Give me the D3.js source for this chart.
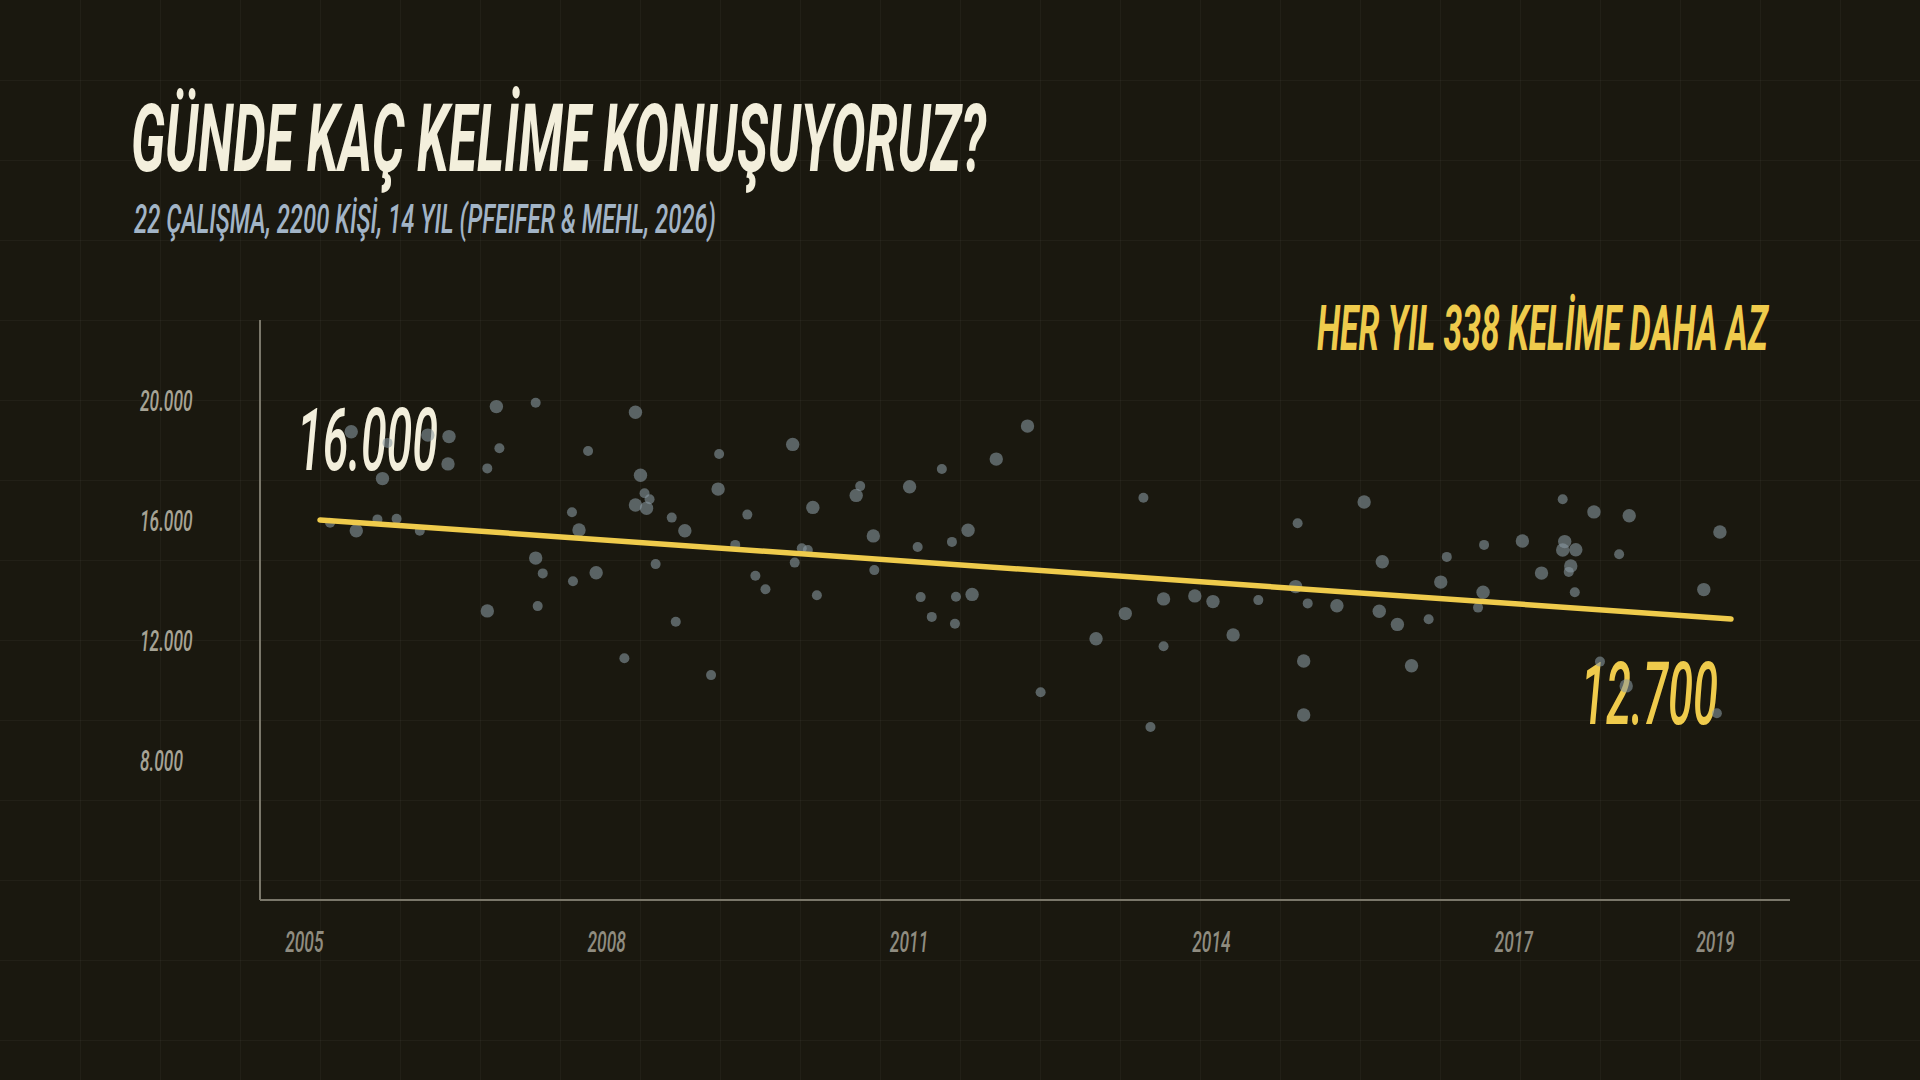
<!DOCTYPE html>
<html lang="tr">
<head>
<meta charset="utf-8">
<title>Günde kaç kelime konuşuyoruz?</title>
<script src="https://cdn.jsdelivr.net/npm/d3@7"></script>
<style>
  html, body { margin: 0; padding: 0; background: #1a180f; }
  svg { display: block; }
  text { font-family: Roboto, "Noto Sans", sans-serif; font-style: italic; }
</style>
</head>
<body>
<div id="chart"></div>
<script>
// Each point is one study sample: year, average words per day, weight (1 = small, 2 = large sample)
const years = [
  2006.75, 2007.14, 2008.13, 2005.31, 2006.07, 2006.28, 2005.67, 2006.27, 2006.78, 2006.66,
  2007.66, 2005.62, 2008.18, 2008.22, 2008.13, 2008.27, 2008.24, 2005.10, 2005.36, 2005.57,
  2005.76, 2005.99, 2007.50, 2007.57, 2007.14, 2007.21, 2007.74, 2007.51, 2008.33, 2006.66,
  2007.16, 2008.02,
  2008.49, 2008.62, 2008.96, 2008.95, 2009.69, 2009.24, 2009.89, 2010.36, 2010.32, 2010.85,
  2011.17, 2011.71, 2012.02, 2010.49, 2010.93, 2011.27, 2011.43, 2009.12, 2009.78, 2009.84,
  2009.71, 2009.32, 2009.42, 2009.93, 2010.50, 2010.96, 2011.31, 2011.47, 2011.07, 2011.30,
  2008.53, 2008.88,
  2013.17, 2014.70, 2015.36, 2015.54, 2014.68, 2013.37, 2013.68, 2013.86, 2014.31, 2014.80,
  2015.09, 2015.51, 2012.99, 2012.70, 2013.37, 2014.06, 2014.76, 2014.76, 2012.15, 2013.24,
  2015.69, 2016.00, 2015.83, 2016.12, 2016.18, 2016.55, 2016.93, 2016.54, 2016.49, 2017.12,
  2017.33, 2017.64, 2017.99, 2018.89, 2017.35, 2017.33, 2017.46, 2017.89, 2017.41, 2017.39,
  2017.45, 2018.73, 2017.70, 2017.96, 2018.86
];
const words = [
  19780, 19910, 19590, 18940, 18830, 18780, 18570, 17870, 18390, 17720,
  18300, 17380, 17490, 16890, 16500, 16690, 16390, 15910, 15640, 16020,
  16040, 15640, 16260, 15670, 14730, 14220, 14240, 13960, 14530, 12970,
  13130, 11390,
  16080, 15640, 18200, 17030, 18520, 16180, 16420, 17130, 16820, 17110,
  17700, 18030, 19130, 15470, 15100, 15270, 15660, 15170, 15060, 15000,
  14580, 14140, 13690, 13490, 14330, 13430, 13440, 13520, 12770, 12540,
  12610, 10830,
  16740, 15890, 16600, 14610, 13780, 13370, 13470, 13280, 13330, 13220,
  13140, 12960, 12880, 12040, 11790, 12170, 11300, 9500, 10260, 9100,
  12520, 12690, 11140, 13930, 14770, 15170, 15300, 13590, 13080, 14230,
  16690, 16270, 16140, 15600, 15280, 15000, 15010, 14860, 14470, 14270,
  13590, 13680, 11280, 10470, 9560
];
const weights = [
  2, 1, 2, 2, 2, 2, 1, 2, 1, 1,
  1, 2, 2, 1, 2, 1, 2, 1, 2, 1,
  1, 1, 1, 2, 2, 1, 2, 1, 1, 2,
  1, 1,
  1, 2, 1, 2, 2, 1, 2, 1, 2, 2,
  1, 2, 2, 2, 1, 1, 2, 1, 1, 1,
  1, 1, 1, 1, 1, 1, 1, 2, 1, 1,
  1, 1,
  1, 1, 2, 2, 2, 2, 2, 2, 1, 1,
  2, 2, 2, 2, 1, 2, 2, 2, 1, 1,
  2, 1, 2, 2, 1, 1, 2, 2, 1, 2,
  1, 2, 2, 2, 2, 2, 2, 1, 2, 1,
  1, 2, 1, 2, 1
];

// Trend line (start / end)
const trendYears = [2005, 2019];
const trendWords = [16000, 12700];

const xTicks = [2005, 2008, 2011, 2014, 2017, 2019];
const yTicks = [8000, 12000, 16000, 20000];

const titleText = "GÜNDE KAÇ KELİME KONUŞUYORUZ?";
const subtitleText = "22 ÇALIŞMA, 2200 KİŞİ, 14 YIL (PFEIFER & MEHL, 2026)";
const noteText = "HER YIL 338 KELİME DAHA AZ";

const width = 1920;
const height = 1080;

const cream = "#f3efdc";
const yellow = "#efcb4c";

const trFormat = d3.formatLocale({ decimal: ",", thousands: ".", grouping: [3], currency: ["", ""] }).format(",");

const svg = d3.select("#chart")
  .append("svg")
  .attr("width", width)
  .attr("height", height)
  .attr("viewBox", `0 0 ${width} ${height}`);

svg.append("rect")
  .attr("width", width)
  .attr("height", height)
  .attr("fill", "#1a180f");

// faint background grid every 80px
const grid = svg.append("g").attr("stroke", "rgba(255,255,255,0.035)").attr("stroke-width", 1);
grid.selectAll("line.v")
  .data(d3.range(80, width, 80))
  .enter().append("line")
  .attr("x1", d => d + 0.5).attr("x2", d => d + 0.5)
  .attr("y1", 0).attr("y2", height);
grid.selectAll("line.h")
  .data(d3.range(80, height, 80))
  .enter().append("line")
  .attr("y1", d => d + 0.5).attr("y2", d => d + 0.5)
  .attr("x1", 0).attr("x2", width);

const x = d3.scaleLinear().domain([2005, 2019]).range([320, 1731]);
const y = d3.scaleLinear().domain([8000, 20000]).range([760, 400]);
const r = d3.scaleLinear().domain([1, 2]).range([5, 6.7]);

// draw text squeezed horizontally (condensed look), left edge at x, baseline at y
function condensed(parent, str, px, py, size, weight, fill, targetWidth) {
  const t = parent.append("text")
    .attr("font-size", size)
    .attr("font-weight", weight)
    .attr("fill", fill)
    .text(str);
  const w = t.node().getComputedTextLength();
  t.attr("transform", `translate(${px},${py}) scale(${targetWidth / w},1)`);
  return t;
}

// squeeze axis tick labels around their anchor
function squeezeTicks(sel, ratio, xPos) {
  sel.attr("x", xPos / ratio)
    .attr("transform", `scale(${ratio},1)`);
}

// Title + subtitle
condensed(svg, titleText, 131, 171, 94, 700, cream, 855);
condensed(svg, subtitleText, 134, 233, 40, 500, "#a2b4c6", 582);

// Frame lines
svg.append("line")
  .attr("x1", 260).attr("x2", 260)
  .attr("y1", 320).attr("y2", 900)
  .attr("stroke", "#7a776a").attr("stroke-width", 2);
svg.append("line")
  .attr("x1", 260).attr("x2", 1790)
  .attr("y1", 900).attr("y2", 900)
  .attr("stroke", "#7a776a").attr("stroke-width", 2);

// Y axis
const yAxis = svg.append("g")
  .attr("transform", "translate(260,0)")
  .call(d3.axisLeft(y).tickValues(yTicks).tickSize(0).tickFormat(trFormat));
yAxis.select(".domain").remove();
yAxis.selectAll("text")
  .attr("dy", "0.36em")
  .attr("text-anchor", "start")
  .attr("font-size", 29)
  .attr("font-weight", 500)
  .attr("font-family", "Roboto, sans-serif")
  .attr("fill", "#a6a395")
  .call(squeezeTicks, 0.6, -120);

// X axis
const xAxis = svg.append("g")
  .attr("transform", "translate(0,900)")
  .call(d3.axisBottom(x).tickValues(xTicks).tickSize(0).tickFormat(d3.format("d")));
xAxis.select(".domain").remove();
xAxis.selectAll("text")
  .attr("y", 52)
  .attr("dy", 0)
  .attr("text-anchor", "end")
  .attr("font-size", 30)
  .attr("font-weight", 500)
  .attr("font-family", "Roboto, sans-serif")
  .attr("fill", "#8f8c80")
  .call(squeezeTicks, 0.58, 3);

// Start / end annotations
condensed(svg, trFormat(trendWords[0]), x(trendYears[0]) - 23, y(trendWords[0]) - 50, 87, 500, cream, 141);
condensed(svg, trFormat(trendWords[1]), x(trendYears[1]) - 150, y(trendWords[1]) + 105, 87, 500, yellow, 137);
condensed(svg, noteText, 1317, 350, 62, 700, yellow, 451);

// Scatter points
const points = years.map((yr, i) => ({ year: yr, words: words[i], weight: weights[i] }));
svg.append("g")
  .selectAll("circle")
  .data(points)
  .enter().append("circle")
  .attr("cx", d => x(d.year))
  .attr("cy", d => y(d.words))
  .attr("r", d => r(d.weight))
  .attr("fill", "#8a9aa2")
  .attr("fill-opacity", 0.58);

// Trend line
const trend = trendYears.map((yr, i) => [yr, trendWords[i]]);
svg.append("path")
  .datum(trend)
  .attr("d", d3.line().x(d => x(d[0])).y(d => y(d[1])))
  .attr("fill", "none")
  .attr("stroke", yellow)
  .attr("stroke-width", 5.5)
  .attr("stroke-linecap", "round");
</script>
</body>
</html>
